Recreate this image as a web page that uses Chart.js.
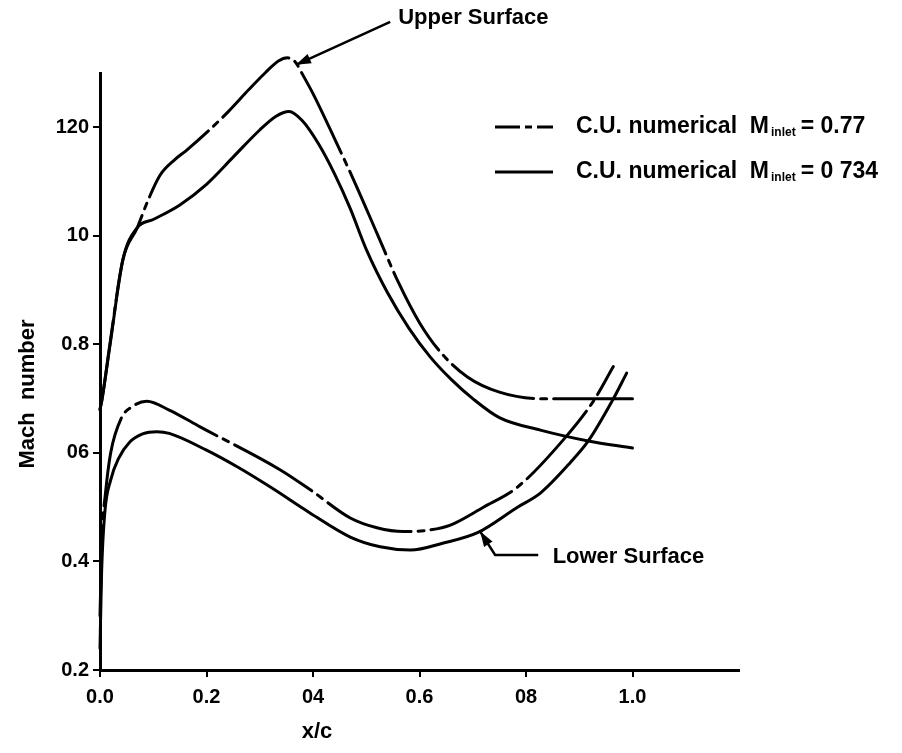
<!DOCTYPE html>
<html>
<head>
<meta charset="utf-8">
<script src="https://cdn.jsdelivr.net/npm/chart.js@4.4.1/dist/chart.umd.min.js"></script>
<style>
  body { margin: 0; background: #fff; }
  #wrap { width: 902px; height: 753px; position: relative; }
</style>
</head>
<body>
<div id="wrap"><canvas id="machChart"></canvas></div>
<script>
// Upper surface, M inlet = 0.77 (dash-dot)
const upper077X = [0, 0.004, 0.019, 0.043, 0.07, 0.09, 0.113, 0.14, 0.163, 0.2, 0.24, 0.28, 0.31, 0.335, 0.352, 0.367, 0.38, 0.40, 0.44, 0.48, 0.52, 0.56, 0.60, 0.64, 0.69, 0.75, 0.827, 0.9, 1.0];
const upper077Y = [0.68, 0.70, 0.803, 0.956, 1.015, 1.065, 1.112, 1.14, 1.158, 1.19, 1.228, 1.27, 1.30, 1.322, 1.328, 1.32, 1.298, 1.262, 1.18, 1.095, 1.005, 0.915, 0.84, 0.785, 0.74, 0.712, 0.70, 0.70, 0.70];

// Upper surface, M inlet = 0.734 (solid)
const upper0734X = [0, 0.004, 0.019, 0.043, 0.07, 0.10, 0.15, 0.20, 0.25, 0.30, 0.33, 0.355, 0.38, 0.41, 0.44, 0.47, 0.50, 0.54, 0.58, 0.62, 0.66, 0.70, 0.75, 0.827, 0.917, 1.0];
const upper0734Y = [0.68, 0.70, 0.80, 0.956, 1.015, 1.03, 1.057, 1.095, 1.145, 1.195, 1.22, 1.229, 1.212, 1.17, 1.115, 1.05, 0.975, 0.895, 0.83, 0.777, 0.735, 0.70, 0.665, 0.642, 0.622, 0.609];

// Lower surface, M inlet = 0.77 (dash-dot)
const lower077X = [0, 0.004, 0.01, 0.02, 0.04, 0.06, 0.088, 0.13, 0.188, 0.338, 0.395, 0.47, 0.52, 0.57, 0.62, 0.658, 0.72, 0.784, 0.87, 0.927, 0.964];
const lower077Y = [0.30, 0.45, 0.523, 0.60, 0.664, 0.685, 0.695, 0.679, 0.648, 0.569, 0.532, 0.48, 0.462, 0.455, 0.458, 0.467, 0.50, 0.537, 0.624, 0.696, 0.759];

// Lower surface, M inlet = 0.734 (solid)
const lower0734X = [0, 0.003, 0.009, 0.02, 0.035, 0.056, 0.08, 0.107, 0.13, 0.2, 0.26, 0.32, 0.395, 0.47, 0.526, 0.583, 0.645, 0.709, 0.784, 0.827, 0.883, 0.917, 0.962, 0.989];
const lower0734Y = [0.24, 0.38, 0.49, 0.55, 0.59, 0.62, 0.635, 0.639, 0.636, 0.605, 0.573, 0.537, 0.489, 0.445, 0.427, 0.421, 0.434, 0.453, 0.50, 0.526, 0.582, 0.622, 0.696, 0.747];

// Ticks as printed on the figure
const xTickValues = [0, 0.2, 0.4, 0.6, 0.8, 1.0];
const xTickLabels = ['0.0', '0.2', '04', '0.6', '08', '1.0'];
const yTickValues = [0.2, 0.4, 0.6, 0.8, 1.0, 1.2];
const yTickLabels = ['0.2', '0.4', '06', '0.8', '10', '120'];

const FONT = '"Liberation Sans", Arial, sans-serif';
const DASH_DOT = [90, 7, 6, 7];

function toPoints(xs, ys) {
  return xs.map((x, i) => ({ x: x, y: ys[i] }));
}

function lineSet(label, xs, ys, dash) {
  return {
    label: label,
    data: toPoints(xs, ys),
    borderColor: '#000',
    borderWidth: 3,
    borderDash: dash,
    pointRadius: 0,
    fill: false,
    clip: false,
    cubicInterpolationMode: 'monotone',
    borderCapStyle: 'round'
  };
}

function drawArrow(ctx, pts) {
  ctx.beginPath();
  ctx.moveTo(pts[0][0], pts[0][1]);
  for (let i = 1; i < pts.length; i++) ctx.lineTo(pts[i][0], pts[i][1]);
  ctx.stroke();
  const [tx, ty] = pts[pts.length - 1];
  const [px, py] = pts[pts.length - 2];
  const a = Math.atan2(ty - py, tx - px);
  const len = 15, half = 5;
  ctx.beginPath();
  ctx.moveTo(tx, ty);
  ctx.lineTo(tx - len * Math.cos(a) + half * Math.sin(a), ty - len * Math.sin(a) - half * Math.cos(a));
  ctx.lineTo(tx - len * Math.cos(a) - half * Math.sin(a), ty - len * Math.sin(a) + half * Math.cos(a));
  ctx.closePath();
  ctx.fill();
}

const figureText = {
  id: 'figureText',
  afterDraw(chart) {
    const { ctx, scales: { x, y } } = chart;
    const P = (vx, vy) => [x.getPixelForValue(vx), y.getPixelForValue(vy)];
    ctx.save();
    ctx.fillStyle = '#000';
    ctx.strokeStyle = '#000';
    ctx.lineWidth = 2.5;
    ctx.setLineDash([]);

    // annotations anchored in data space
    drawArrow(ctx, [P(0.545, 1.394), P(0.368, 1.315)]);
    drawArrow(ctx, [P(0.823, 0.412), P(0.742, 0.412), P(0.714, 0.455)]);
    ctx.font = 'bold 22px ' + FONT;
    ctx.textBaseline = 'middle';
    ctx.textAlign = 'left';
    let p = P(0.56, 1.402);
    ctx.fillText('Upper Surface', p[0], p[1]);
    p = P(0.85, 0.408);
    ctx.fillText('Lower Surface', p[0], p[1]);

    // legend
    const rows = [
      { y: 127, dash: [25, 5, 7, 5], value: '0.77' },
      { y: 172, dash: [], value: '0 734' }
    ];
    rows.forEach(r => {
      ctx.lineWidth = 3;
      ctx.setLineDash(r.dash);
      ctx.beginPath();
      ctx.moveTo(495, r.y);
      ctx.lineTo(553, r.y);
      ctx.stroke();
      ctx.setLineDash([]);
      ctx.font = 'bold 23px ' + FONT;
      let tx = 576;
      ctx.fillText('C.U. numerical  M', tx, r.y);
      tx += ctx.measureText('C.U. numerical  M').width + 2;
      ctx.font = 'bold 12px ' + FONT;
      ctx.fillText('inlet', tx, r.y + 6);
      tx += ctx.measureText('inlet').width + 5;
      ctx.font = 'bold 23px ' + FONT;
      ctx.fillText('= ' + r.value, tx, r.y);
    });

    // axis titles
    ctx.font = 'bold 22px ' + FONT;
    ctx.textAlign = 'center';
    ctx.fillText('x/c', 317, 732);
    ctx.translate(28, 394);
    ctx.rotate(-Math.PI / 2);
    ctx.fillText('Mach  number', 0, 0);
    ctx.restore();
  }
};

const axisCommon = {
  type: 'linear',
  border: { display: true, color: '#000', width: 3 },
  grid: { display: true, drawOnChartArea: false, drawTicks: true, tickLength: 7, color: '#000', lineWidth: 2 }
};

new Chart(document.getElementById('machChart'), {
  type: 'line',
  data: {
    datasets: [
      lineSet('C.U. numerical M inlet = 0.77', upper077X, upper077Y, DASH_DOT),
      lineSet('C.U. numerical M inlet = 0.734', upper0734X, upper0734Y, []),
      lineSet('Lower 0.77', lower077X, lower077Y, DASH_DOT),
      lineSet('Lower 0.734', lower0734X, lower0734Y, [])
    ]
  },
  options: {
    responsive: true,
    maintainAspectRatio: false,
    animation: false,
    layout: { padding: { left: 0, top: 73, right: 163, bottom: 0 } },
    plugins: { legend: { display: false }, tooltip: { enabled: false } },
    scales: {
      x: Object.assign({}, axisCommon, {
        position: 'bottom',
        min: 0, max: 1.2,
        afterBuildTicks: axis => { axis.ticks = xTickValues.map(v => ({ value: v })); },
        afterFit: axis => { axis.height = 83; },
        ticks: {
          color: '#000', padding: 8,
          font: { family: FONT, size: 20, weight: 'bold' },
          callback: (v, i) => xTickLabels[i]
        }
      }),
      y: Object.assign({}, axisCommon, {
        position: 'left',
        min: 0.2, max: 1.3,
        afterBuildTicks: axis => { axis.ticks = yTickValues.map(v => ({ value: v })); },
        afterFit: axis => { axis.width = 100; },
        ticks: {
          color: '#000', padding: 4,
          font: { family: FONT, size: 20, weight: 'bold' },
          callback: (v, i) => yTickLabels[i]
        }
      })
    }
  },
  plugins: [figureText]
});
</script>
</body>
</html>
